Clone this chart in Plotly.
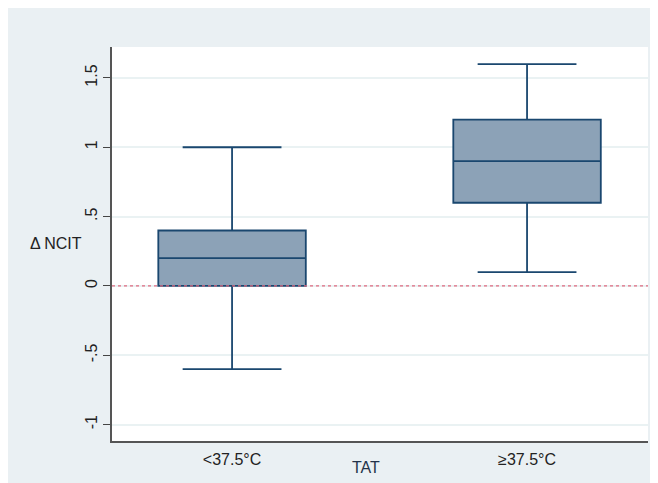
import plotly.graph_objects as go

categories = ["<37.5°C", "≥37.5°C"]
q1 = [0.0, 0.6]
median = [0.2, 0.9]
q3 = [0.4, 1.2]
lowerfence = [-0.6, 0.1]
upperfence = [1.0, 1.6]
ytick_vals = [-1, -0.5, 0, 0.5, 1, 1.5]
ytick_text = ["-1", "-.5", "0", ".5", "1", "1.5"]

W, H = 650, 475
L, R, T, B = 104, 10, 39, 42
pw, ph = W - L - R, H - T - B

def px(x):
    return (x - L) / pw

def py(y):
    return (H - B - y) / ph

fig = go.Figure()
for i, c in enumerate(categories):
    fig.add_trace(go.Box(
        x=[i], q1=[q1[i]], median=[median[i]], q3=[q3[i]],
        lowerfence=[lowerfence[i]], upperfence=[upperfence[i]],
        name=c, width=0.5, whiskerwidth=0.67,
        fillcolor="#8CA2B7", line=dict(color="#1A476F", width=1.8),
        boxpoints=False, showlegend=False, hoverinfo="skip",
    ))

BG = "#EAF0F3"
shapes = [
    dict(type="line", xref="paper", yref="y", x0=0, x1=1, y0=0, y1=0,
         line=dict(color="#E06A80", width=1.2, dash="dot"), layer="above"),
]

fig.update_layout(
    width=W, height=H,
    margin=dict(l=L, r=R, t=T, b=B),
    paper_bgcolor=BG, plot_bgcolor="white",
    font=dict(family="Liberation Sans, Arial", size=16, color="#222222"),
    shapes=shapes,
    xaxis=dict(
        range=[-0.407, 1.41], tickvals=[0, 1], ticktext=categories,
        showgrid=False, zeroline=False, showline=True, linecolor="#555555", linewidth=2,
        ticks="", ticklabelstandoff=3,
    ),
    yaxis=dict(
        range=[-1.118, 1.723], tickvals=ytick_vals, ticktext=ytick_text, tickangle=-90,
        showgrid=True, gridcolor="#EAF2F3", gridwidth=1.5, zeroline=False,
        showline=True, linecolor="#555555", linewidth=2,
        ticks="outside", ticklen=7, tickcolor="#444444", tickwidth=1.2,
    ),
    annotations=[
        dict(text="Δ NCIT", xref="paper", yref="paper", x=px(20), y=py(235),
             xanchor="left", yanchor="middle", showarrow=False,
             font=dict(size=16, color="#222222")),
        dict(text="TAT", xref="paper", yref="paper", x=px(358), y=py(459.5),
             xanchor="center", yanchor="middle", showarrow=False,
             font=dict(size=16, color="#22334A")),
    ],
)

fig.write_html("out.html")
